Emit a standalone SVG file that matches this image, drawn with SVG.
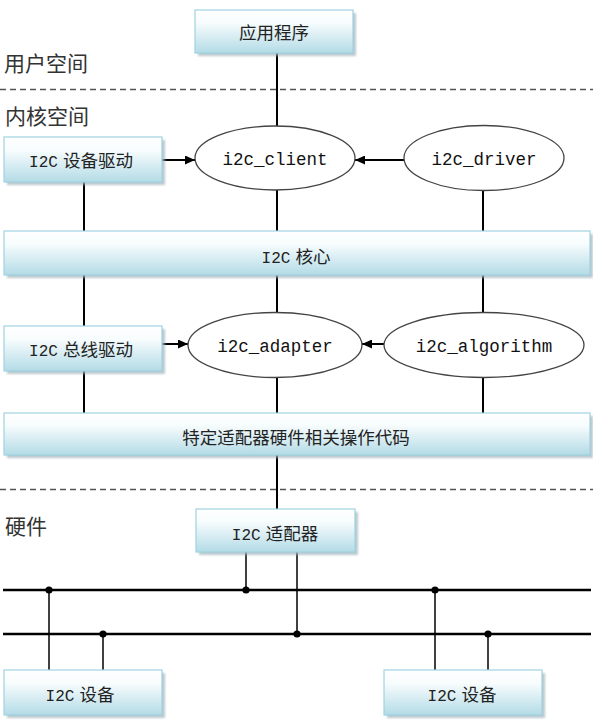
<svg xmlns="http://www.w3.org/2000/svg" width="593" height="728" viewBox="0 0 593 728">
<defs>
<linearGradient id="boxg" x1="0" y1="0" x2="0" y2="1">
<stop offset="0" stop-color="#ffffff"/>
<stop offset="0.3" stop-color="#f7fcfd"/>
<stop offset="1" stop-color="#b3dbe6"/>
</linearGradient>
<filter id="blur" x="-5%" y="-20%" width="110%" height="140%"><feGaussianBlur stdDeviation="0.8"/></filter>
<marker id="arr" markerUnits="userSpaceOnUse" markerWidth="11" markerHeight="9" refX="10" refY="4.5" orient="auto">
<path d="M0,0 L10,4.5 L0,9 z" fill="#000"/>
</marker>
</defs>
<style>
.box{fill:url(#boxg);stroke:#9fd3e1;stroke-width:1.2}
.sh{fill:#9fb3ba;opacity:0.7;filter:url(#blur)}
.lbl{font-family:"Noto Sans CJK SC",sans-serif;font-size:17.5px;fill:#222;text-anchor:middle}
.lat{font-family:"Liberation Mono",monospace;font-size:16px}
.ell{fill:#fff;stroke:#444;stroke-width:1.3}
.et{font-family:"Liberation Mono",monospace;font-size:17.5px;fill:#111;text-anchor:middle}
.head{font-family:"Noto Sans CJK SC",sans-serif;font-size:21px;fill:#333}
.dash{stroke:#555;stroke-width:1.3;stroke-dasharray:6 4;fill:none}
.c{stroke:#000;stroke-width:2;fill:none}
.bus{stroke:#000;stroke-width:2.6;fill:none}
.thin{stroke:#000;stroke-width:1.5;fill:none}
.dot{fill:#000}
</style>

<g id="separators">
<line class="dash" x1="0" y1="89.5" x2="593" y2="89.5"/>
<line class="dash" x1="0" y1="489.5" x2="593" y2="489.5"/>
<text class="head" x="4" y="71">用户空间</text>
<text class="head" x="5" y="123.5">内核空间</text>
<text class="head" x="5" y="534">硬件</text>
</g>

<g id="connectors">
<line class="c" x1="277" y1="53" x2="277" y2="126"/>
<line class="c" x1="162" y1="160" x2="195" y2="160" marker-end="url(#arr)"/>
<line class="c" x1="404" y1="160" x2="355" y2="160" marker-end="url(#arr)"/>
<line class="c" x1="84" y1="182" x2="84" y2="231"/>
<line class="c" x1="277" y1="190" x2="277" y2="231"/>
<line class="c" x1="483" y1="190.5" x2="483" y2="231"/>
<line class="c" x1="84" y1="275" x2="84" y2="326"/>
<line class="c" x1="277" y1="275" x2="277" y2="312.5"/>
<line class="c" x1="483" y1="275" x2="483" y2="312.5"/>
<line class="c" x1="162" y1="344" x2="188" y2="344" marker-end="url(#arr)"/>
<line class="c" x1="384" y1="344" x2="362" y2="344" marker-end="url(#arr)"/>
<line class="c" x1="84" y1="371" x2="84" y2="413"/>
<line class="c" x1="277" y1="377.5" x2="277" y2="413"/>
<line class="c" x1="483" y1="377.5" x2="483" y2="413"/>
<line class="c" x1="277" y1="455" x2="277" y2="509"/>
<line class="bus" x1="3" y1="590" x2="591" y2="590"/>
<line class="bus" x1="3" y1="634" x2="591" y2="634"/>
<line class="thin" x1="246" y1="552" x2="246" y2="590"/>
<line class="thin" x1="297" y1="552" x2="297" y2="634"/>
<line class="thin" x1="49" y1="590" x2="49" y2="670"/>
<line class="thin" x1="103" y1="634" x2="103" y2="670"/>
<line class="thin" x1="435" y1="590" x2="435" y2="670"/>
<line class="thin" x1="488" y1="634" x2="488" y2="670"/>
<circle class="dot" cx="49" cy="590" r="3.6"/>
<circle class="dot" cx="246" cy="590" r="3.6"/>
<circle class="dot" cx="435" cy="590" r="3.6"/>
<circle class="dot" cx="103" cy="634" r="3.6"/>
<circle class="dot" cx="297" cy="634" r="3.6"/>
<circle class="dot" cx="488" cy="634" r="3.6"/>
</g>

<g id="app">
<rect class="sh" x="198" y="13" width="158" height="43"/>
<rect class="box" x="195" y="10" width="158" height="43"/>
<text class="lbl" x="274" y="39">应用程序</text>
</g>

<g id="dev_driver">
<rect class="sh" x="7" y="140" width="158" height="45"/>
<rect class="box" x="4" y="137" width="158" height="45"/>
<text class="lbl" x="81" y="166.5"><tspan class="lat">I2C</tspan><tspan dx="5">设备驱动</tspan></text>
</g>

<g id="i2c_client">
<ellipse class="ell" cx="275" cy="158" rx="80" ry="32"/>
<text class="et" x="275" y="164.5">i2c_client</text>
</g>

<g id="i2c_driver">
<ellipse class="ell" cx="484" cy="158" rx="80" ry="32.5"/>
<text class="et" x="484" y="164.5">i2c_driver</text>
</g>

<g id="core">
<rect class="sh" x="7" y="234" width="586" height="44"/>
<rect class="box" x="4" y="231" width="586" height="44"/>
<text class="lbl" x="296" y="263"><tspan class="lat">I2C</tspan><tspan dx="5">核心</tspan></text>
</g>

<g id="bus_driver">
<rect class="sh" x="7" y="329" width="158" height="45"/>
<rect class="box" x="4" y="326" width="158" height="45"/>
<text class="lbl" x="81" y="356"><tspan class="lat">I2C</tspan><tspan dx="5">总线驱动</tspan></text>
</g>

<g id="i2c_adapter">
<ellipse class="ell" cx="275" cy="345" rx="87" ry="32.5"/>
<text class="et" x="275" y="351.5">i2c_adapter</text>
</g>

<g id="i2c_algorithm">
<ellipse class="ell" cx="484" cy="345" rx="100" ry="32.5"/>
<text class="et" x="484" y="351.5">i2c_algorithm</text>
</g>

<g id="hw_code">
<rect class="sh" x="7" y="416" width="586" height="42"/>
<rect class="box" x="4" y="413" width="586" height="42"/>
<text class="lbl" x="296" y="443.5">特定适配器硬件相关操作代码</text>
</g>

<g id="adapter_hw">
<rect class="sh" x="199" y="512" width="159" height="43"/>
<rect class="box" x="196" y="509" width="159" height="43"/>
<text class="lbl" x="275" y="539.5"><tspan class="lat">I2C</tspan><tspan dx="5">适配器</tspan></text>
</g>

<g id="device1">
<rect class="sh" x="7" y="673" width="158" height="45"/>
<rect class="box" x="4" y="670" width="158" height="45"/>
<text class="lbl" x="80" y="700.5"><tspan class="lat">I2C</tspan><tspan dx="5">设备</tspan></text>
</g>

<g id="device2">
<rect class="sh" x="387" y="673" width="158" height="45"/>
<rect class="box" x="384" y="670" width="158" height="45"/>
<text class="lbl" x="462" y="700.5"><tspan class="lat">I2C</tspan><tspan dx="5">设备</tspan></text>
</g>
</svg>
